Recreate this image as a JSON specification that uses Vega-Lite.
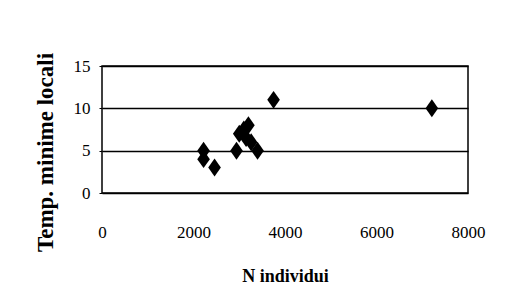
{
  "$schema": "https://vega.github.io/schema/vega-lite/v6.json",
  "autosize": "none",
  "width": 366,
  "height": 127,
  "padding": {"left": 102, "top": 66, "right": 39, "bottom": 115},
  "background": "white",
  "config": {
    "font": "Liberation Serif",
    "view": {"stroke": "black", "strokeWidth": 1.5}
  },
  "data": {
    "values": [
      {"n": 2220, "t": 5},
      {"n": 2220, "t": 4},
      {"n": 2460, "t": 3},
      {"n": 2940, "t": 5},
      {"n": 3000, "t": 7},
      {"n": 3100, "t": 7.5},
      {"n": 3200, "t": 8},
      {"n": 3150, "t": 6.5},
      {"n": 3260, "t": 6},
      {"n": 3400, "t": 5},
      {"n": 3750, "t": 11},
      {"n": 7210, "t": 10}
    ]
  },
  "mark": {
    "type": "point",
    "shape": "M0,-1.42L1,0L0,1.42L-1,0Z",
    "filled": true,
    "color": "black",
    "opacity": 1,
    "size": 160
  },
  "encoding": {
    "x": {
      "field": "n",
      "type": "quantitative",
      "scale": {"domain": [0, 8000], "nice": false},
      "axis": {
        "values": [0, 2000, 4000, 6000, 8000],
        "format": "d",
        "grid": false,
        "domain": false,
        "ticks": false,
        "labelPadding": 31,
        "labelFont": "Liberation Serif",
        "labelFontSize": 17,
        "labelColor": "black",
        "labelFlush": false,
        "title": "N individui",
        "titleFont": "Liberation Serif",
        "titleColor": "black",
        "titleFontSize": 18,
        "titleFontWeight": "bold",
        "titleBaseline": "alphabetic",
        "titleY": 88
      }
    },
    "y": {
      "field": "t",
      "type": "quantitative",
      "scale": {"domain": [0, 15], "nice": false},
      "axis": {
        "values": [0, 5, 10, 15],
        "grid": true,
        "gridColor": "black",
        "gridWidth": 1.5,
        "gridOpacity": 1,
        "domain": false,
        "ticks": true,
        "tickSize": 3,
        "tickColor": "black",
        "labelPadding": 9,
        "labelFont": "Liberation Serif",
        "labelFontSize": 17,
        "labelColor": "black",
        "labelFlush": false,
        "title": "Temp. minime locali",
        "titleFont": "Liberation Serif",
        "titleColor": "black",
        "titleFontSize": 23,
        "titleFontWeight": "bold",
        "titleBaseline": "middle",
        "titleX": -57,
        "titleY": 86
      }
    }
  }
}
